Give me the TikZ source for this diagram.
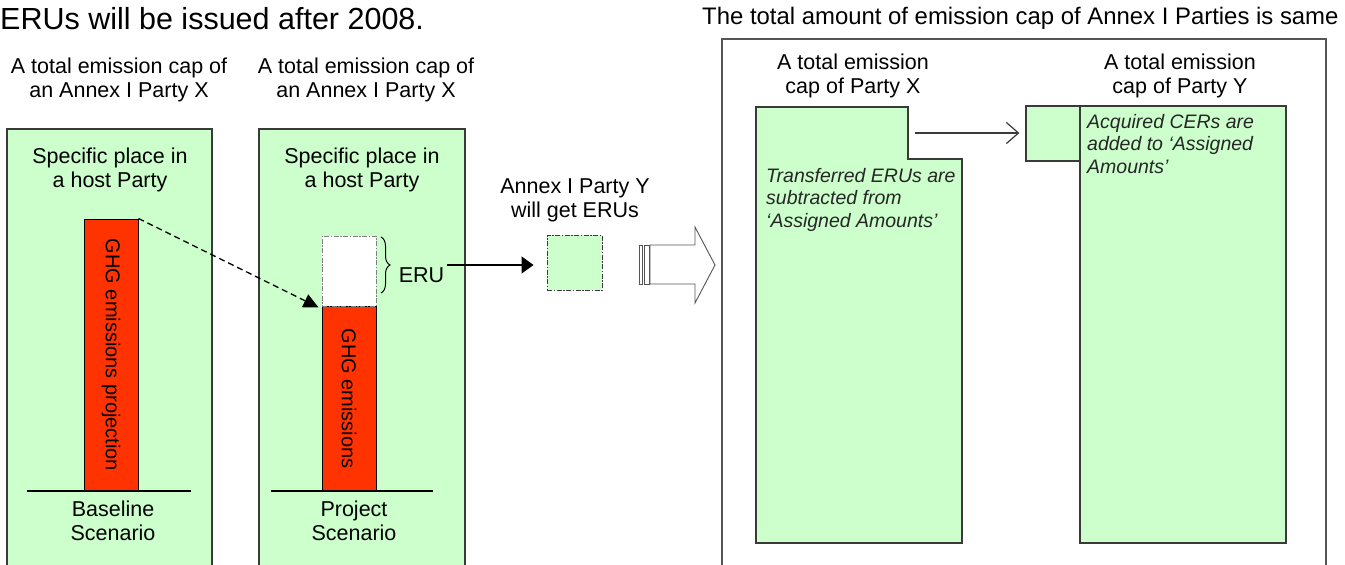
\documentclass[tikz,border=0pt]{standalone}
\usepackage{fontspec}
\setmainfont{Liberation Sans}
\usetikzlibrary{arrows.meta,decorations.pathreplacing}
\definecolor{lgreen}{HTML}{CCFFCC}
\definecolor{ghgred}{HTML}{FF3300}
\definecolor{edge}{HTML}{3A3A3A}
\definecolor{frame}{HTML}{555555}
\tikzset{
  gbox/.style={draw=edge, fill=lgreen, line width=1.3pt, inner sep=0pt, rectangle},
  rbar/.style={draw=black, fill=ghgred, line width=1pt, inner sep=0pt, rectangle},
  dbox/.style={draw=edge, line width=0.9pt, dash pattern=on 5pt off 1.5pt on 1.5pt off 1.5pt, inner sep=0pt, rectangle},
  lbl/.style={align=center, inner sep=1pt, font=\fontsize{21.5}{24}\selectfont},
  itl/.style={align=left, inner sep=0pt, anchor=west, font=\fontsize{19.5}{22.5}\selectfont\itshape, text=black!85},
  bartext/.style={rotate=-90, inner sep=0pt, font=\fontsize{20}{22}\selectfont},
  baseln/.style={line width=1.8pt, black},
}
\begin{document}
\begin{tikzpicture}[x=1pt,y=-1pt]
\useasboundingbox (0,0) rectangle (1345,565);
\clip (0,0) rectangle (1345,565);
\fill[white] (0,0) rectangle (1345,565);

% titles
\node[anchor=west, inner sep=0pt, font=\fontsize{30.5}{32}\selectfont] (title) at (0,19) {ERUs will be issued after 2008.};
\node[anchor=west, inner sep=0pt, font=\fontsize{23.9}{26}\selectfont] (title2) at (702,18) {The total amount of emission cap of Annex I Parties is same};

% left panels
\node[gbox, minimum width=205pt, minimum height=445pt] (box1) at (109.5,351.5) {};
\node[gbox, minimum width=206pt, minimum height=445pt] (box2) at (362,351.5) {};
\node[lbl] (cap1) at (119,80) {A total emission cap of\\an Annex I Party X};
\node[lbl] (cap2) at (366,80) {A total emission cap of\\an Annex I Party X};
\node[lbl] (spec1) at (110,170) {Specific place in\\a host Party};
\node[lbl] (spec2) at (362,170) {Specific place in\\a host Party};

\node[rbar, minimum width=54pt, minimum height=272pt] (red1) at (111,355) {};
\node[bartext] (red1t) at (red1.center) {GHG emissions projection};
\node[rbar, minimum width=54pt, minimum height=185pt] (red2) at (349,398.5) {};
\node[bartext] (red2t) at (red2.center) {GHG emissions};
\node[dbox, fill=white, draw=gray, minimum width=54pt, minimum height=70pt] (eruw) at (349,271) {};

\coordinate (b1a) at (27,491); \coordinate (b1b) at (191,491);
\coordinate (b2a) at (271,491); \coordinate (b2b) at (433,491);
\draw[baseln] (b1a) -- (b1b);
\draw[baseln] (b2a) -- (b2b);
\node[lbl] (base1) at (113,521) {Baseline\\Scenario};
\node[lbl] (base2) at (354,521) {Project\\Scenario};

% dashed arrow baseline -> project
\draw[line width=1.3pt, dash pattern=on 6pt off 4pt, -{Triangle[length=15pt,width=14pt]}]
  (red1.north east) -- ([xshift=-3pt,yshift=-1pt]eruw.south west);

% brace and ERU
\coordinate (brt) at (381,237); \coordinate (brb) at (381,293);
\draw[line width=1pt, decorate, decoration={brace, amplitude=9pt}] (brt) -- (brb);
\node[lbl] (erulbl) at (421.5,275) {ERU};
\node[dbox, fill=lgreen, minimum width=55pt, minimum height=55pt] (erusq) at (574.5,262.5) {};
\coordinate (eruA) at (447,265);
\draw[line width=1.3pt, -{Triangle[length=12pt,width=17pt]}] (eruA) -- ([xshift=-13pt]eruA -| erusq.west);
\node[lbl] (annexy) at (575,200) {Annex I Party Y\\will get ERUs};

% striped hollow arrow
\draw[line width=0.9pt, draw=frame, fill=white] (639,245) rectangle (642,284);
\draw[line width=0.9pt, draw=frame, fill=white] (644,245) rectangle (649,284);
\draw[line width=0.9pt, draw=frame, fill=white, line join=miter]
  (650,245) -- (695,245) -- (695,227) -- (715,265) -- (695,303) -- (695,284) -- (650,284) -- cycle;

% right panel
\node[draw=frame, line width=1.3pt, inner sep=0pt, minimum width=604pt, minimum height=545pt] (bigbox) at (1024,311.5) {};
\node[lbl] (capx) at (853,75.5) {A total emission\\cap of Party X};
\node[lbl] (capy) at (1180,75.5) {A total emission\\cap of Party Y};

\coordinate (x1) at (756,107); \coordinate (x2) at (908,107); \coordinate (x3) at (908,159);
\coordinate (x4) at (962,159); \coordinate (x5) at (962,543); \coordinate (x6) at (756,543);
\draw[draw=edge, fill=lgreen, line width=1.3pt] (x1) -- (x2) -- (x3) -- (x4) -- (x5) -- (x6) -- cycle;
\node[itl] (xtext) at (766,199.5) {Transferred ERUs are\\subtracted from\\‘Assigned Amounts’};

\node[gbox, minimum width=206pt, minimum height=437pt] (ybox) at (1183,324.5) {};
\node[gbox, minimum width=54pt, minimum height=55pt] (ysmall) at (1053,133.5) {};
\node[itl] (ytext) at (1087,144) {Acquired CERs are\\added to ‘Assigned\\Amounts’};

\coordinate (xn) at (915,133);
\draw[line width=1.2pt, draw=edge, -{Straight Barb[length=12pt,width=21pt]}] (xn) -- ([xshift=-6pt]xn -| ysmall.west);
\end{tikzpicture}
\end{document}
